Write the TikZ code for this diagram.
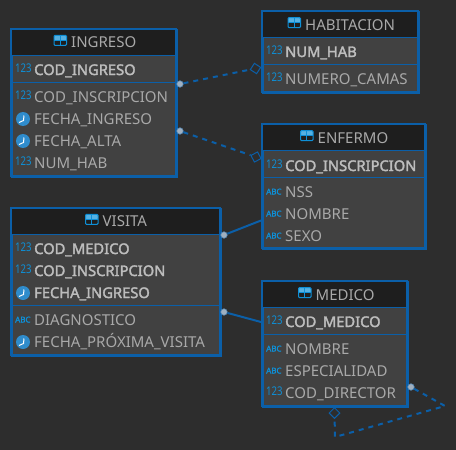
\documentclass[tikz,border=0pt]{standalone}
\usepackage{fontspec}
\setmainfont{Noto Sans}
\newfontfamily\keyfont{Noto Sans}[FakeBold=2.2]
\newfontfamily\numfont{Noto Sans}[FakeStretch=0.8]
\usetikzlibrary{positioning,shapes.geometric}
\definecolor{canvas}{HTML}{2D2D2D}
\definecolor{rowgray}{HTML}{414141}
\definecolor{headgray}{HTML}{1E1E1E}
\definecolor{edgeblue}{HTML}{0B5FA8}
\definecolor{icoblue}{HTML}{0E8FD6}
\definecolor{clockblue}{HTML}{2F8CCC}
\definecolor{dotgray}{HTML}{A0B0C0}
\definecolor{fieldtxt}{HTML}{A9A9A9}
\definecolor{keytxt}{HTML}{BDBDBD}
\tikzset{
  tablebox/.style={draw=edgeblue,fill=rowgray,line width=2pt,anchor=north west,inner sep=0pt},
  headbox/.style={fill=headgray,anchor=north west,inner sep=0pt},
  rowline/.style={draw=edgeblue,line width=1pt},
  titletxt/.style={anchor=base west,inner sep=0pt,text=fieldtxt,font=\fontsize{15}{17}\selectfont},
  fieldtext/.style={anchor=base west,inner sep=0pt,text=fieldtxt,font=\fontsize{15}{17}\selectfont},
  keytext/.style={anchor=base west,inner sep=0pt,text=keytxt,font=\fontsize{14.7}{17}\keyfont},
  numico/.style={anchor=base west,inner sep=0pt,xshift=-19pt,yshift=2.7pt,text=icoblue,
    font=\fontsize{12}{12}\numfont,node contents={123}},
  abcico/.style={anchor=base west,inner sep=0pt,xshift=-19pt,yshift=2.5pt,text=icoblue,
    font=\fontsize{8}{9}\keyfont,node contents={ABC}},
  clockico/.style={circle,fill=clockblue,minimum size=14pt,inner sep=0pt,xshift=-11pt,yshift=5pt,
    node contents={},path picture={
      \draw[white,line width=1pt] ([xshift=1pt,yshift=3.5pt]path picture bounding box.center)
        -- ([xshift=.5pt,yshift=-1.5pt]path picture bounding box.center)
        -- ([xshift=-4pt,yshift=-3.5pt]path picture bounding box.center);}},
  tableico/.style={draw=icoblue,line width=1pt,rounded corners=1pt,minimum width=12.5pt,minimum height=10pt,
    inner sep=0pt,yshift=2pt,path picture={
      \fill[icoblue!70!white] (path picture bounding box.north west) rectangle (path picture bounding box.east);
      \draw[icoblue,line width=1pt] (path picture bounding box.west) -- (path picture bounding box.east);
      \draw[icoblue,line width=1pt] (path picture bounding box.north) -- (path picture bounding box.south);}},
  linkdot/.style={circle,fill=dotgray,draw=dotgray!50!edgeblue,line width=.6pt,minimum size=6.5pt,inner sep=0pt},
  linkdiam/.style={diamond,draw=edgeblue,line width=1pt,minimum size=11pt,inner sep=0pt},
  solidlink/.style={draw=edgeblue,line width=2pt},
  dashlink/.style={draw=edgeblue,line width=2pt,dash pattern=on 5pt off 5pt},
}
% name, left, top, width, height, header height, divider y, title left, title base, title
\newcommand{\tablenode}[9]{
  \node[tablebox,minimum width=#4pt,minimum height=#5pt] (#1) at (#2,#3) {};
  \node[headbox,minimum width=#4pt,minimum height=#6pt] (#1-head) at (#2,#3) {};
  \draw[rowline] (#2,#7) -- ++(#4,0);
  \draw[rowline] (#2,#3) ++(0,#6) -- ++(#4,0);
  \draw[edgeblue,line width=2pt] (#2,#3) rectangle ++(#4,#5);
  \tabletitle{#1}{#8}{#9}
}
\newcommand{\tabletitle}[3]{
  \node[titletxt] (#1-title) at (#2) {#3};
  \node[tableico,left=4pt of #1-title] (#1-ico) {};
}
\newcommand{\rowitem}[6]{
  \node[#2] (#1) at (#3,#4) {#6};
  \node (#1-ico) at (#1.base west) [#5];
}
\begin{document}
\begin{tikzpicture}[x=1pt,y=-1pt]
  \useasboundingbox (0,0) rectangle (456,450);
  \fill[canvas] (0,0) rectangle (456,450);
  % tables
  \tablenode{ingreso}{11}{29}{164.5}{146.5}{26}{82}{71,47.7}{INGRESO}
  \tablenode{habitacion}{262}{11}{156}{81}{26}{64}{305,30}{HABITACION}
  \tablenode{enfermo}{262}{124}{163}{124}{26}{177}{317.5,143}{ENFERMO}
  \tablenode{visita}{11}{208}{209}{147}{26}{305}{102.5,226.7}{VISITA}
  \tablenode{medico}{262}{281}{145}{125}{26}{334}{315.5,300}{MEDICO}
  % rows
  \rowitem{ing-a}{keytext}{34}{75}{numico}{COD\_INGRESO}
  \rowitem{ing-b}{fieldtext}{34}{102}{numico}{COD\_INSCRIPCION}
  \rowitem{ing-c}{fieldtext}{34}{124}{clockico}{FECHA\_INGRESO}
  \rowitem{ing-d}{fieldtext}{34}{146}{clockico}{FECHA\_ALTA}
  \rowitem{ing-e}{fieldtext}{34}{168}{numico}{NUM\_HAB}
  \rowitem{hab-a}{keytext}{285}{57}{numico}{NUM\_HAB}
  \rowitem{hab-b}{fieldtext}{285}{84}{numico}{NUMERO\_CAMAS}
  \rowitem{enf-a}{keytext}{285}{171}{numico}{COD\_INSCRIPCION}
  \rowitem{enf-b}{fieldtext}{285}{197}{abcico}{NSS}
  \rowitem{enf-c}{fieldtext}{285}{219}{abcico}{NOMBRE}
  \rowitem{enf-d}{fieldtext}{285}{241}{abcico}{SEXO}
  \rowitem{vis-a}{keytext}{34}{254}{numico}{COD\_MEDICO}
  \rowitem{vis-b}{keytext}{34}{276}{numico}{COD\_INSCRIPCION}
  \rowitem{vis-c}{keytext}{34}{298}{clockico}{FECHA\_INGRESO}
  \rowitem{vis-d}{fieldtext}{34}{325}{abcico}{DIAGNOSTICO}
  \rowitem{vis-e}{fieldtext}{34}{347}{clockico}{FECHA\_PRÓXIMA\_VISITA}
  \rowitem{med-a}{keytext}{285}{327}{numico}{COD\_MEDICO}
  \rowitem{med-b}{fieldtext}{285}{354}{abcico}{NOMBRE}
  \rowitem{med-c}{fieldtext}{285}{376}{abcico}{ESPECIALIDAD}
  \rowitem{med-d}{fieldtext}{285}{398}{numico}{COD\_DIRECTOR}
  % links
  \node[linkdot] (dot-hab) at (180,84) {};
  \node[linkdiam,rotate=12] (diam-hab) at (255.5,68.5) {};
  \draw[dashlink] (dot-hab) -- (diam-hab);
  \node[linkdot] (dot-enf) at (180,131) {};
  \node[linkdiam,rotate=-17] (diam-enf) at (256,157) {};
  \draw[dashlink] (dot-enf) -- (diam-enf);
  \node[linkdot] (dot-vis) at (224,235) {};
  \coordinate (end-vis) at (261,220.5);
  \draw[solidlink] (dot-vis) -- (end-vis);
  \node[linkdot] (dot-med) at (224,312) {};
  \coordinate (end-med) at (261,322);
  \draw[solidlink] (dot-med) -- (end-med);
  \node[linkdot] (dot-dir) at (411,387) {};
  \node[linkdiam] (diam-dir) at (334.5,413) {};
  \coordinate (turn-a) at (445,406);
  \coordinate (turn-b) at (335,437);
  \draw[dashlink] (dot-dir) -- (turn-a) -- (turn-b) -- (diam-dir);
\end{tikzpicture}
\end{document}
